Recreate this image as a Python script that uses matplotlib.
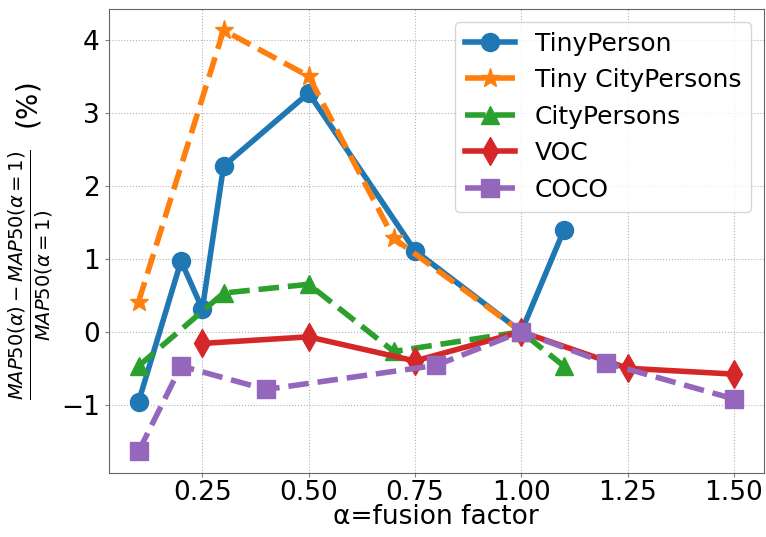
import numpy as np
import matplotlib
matplotlib.use('Agg')
import matplotlib.pyplot as plt

# data
x_tp = [0.1, 0.2, 0.25, 0.3, 0.5, 0.75, 1.0, 1.1]
y_tp = [-0.96, 0.97, 0.31, 2.27, 3.27, 1.11, 0.0, 1.39]

x_tcp = [0.1, 0.3, 0.5, 0.7, 1.0]
y_tcp = [0.41, 4.13, 3.50, 1.28, 0.0]

x_cp = [0.1, 0.3, 0.5, 0.7, 1.0, 1.1]
y_cp = [-0.47, 0.53, 0.65, -0.27, 0.0, -0.47]

x_voc = [0.25, 0.5, 0.75, 1.0, 1.25, 1.5]
y_voc = [-0.16, -0.07, -0.40, 0.0, -0.50, -0.58]

x_coco = [0.1, 0.2, 0.4, 0.8, 1.0, 1.2, 1.5]
y_coco = [-1.64, -0.47, -0.79, -0.46, 0.0, -0.43, -0.92]

fig = plt.figure(figsize=(7.66, 5.37), dpi=100)
ax = fig.add_axes([0.142, 0.12, 0.855, 0.863])

lw = 4
ax.plot(x_tp, y_tp, '-o', color='tab:blue', lw=lw, ms=13, label='TinyPerson')
ax.plot(x_tcp, y_tcp, '--*', color='tab:orange', lw=lw, ms=14, label='Tiny CityPersons')
ax.plot(x_cp, y_cp, '--^', color='tab:green', lw=lw, ms=13, label='CityPersons')
ax.plot(x_voc, y_voc, '-d', color='tab:red', lw=lw, ms=14, label='VOC')
ax.plot(x_coco, y_coco, '--s', color='tab:purple', lw=lw, ms=13, label='COCO')

ax.grid(linestyle=':', color='0.7', linewidth=0.8)
ax.set_xticks([0.25, 0.5, 0.75, 1.0, 1.25, 1.5])
ax.set_yticks([-1, 0, 1, 2, 3, 4])
ax.tick_params(labelsize=19, length=3, color='0.5')
ax.tick_params(axis='x', pad=2)
for s in ax.spines.values():
    s.set_color('0.4')

ax.set_xlabel('α=fusion factor', fontsize=19, labelpad=-1)
ax.set_ylabel(r'$\frac{MAP50(\alpha)-MAP50(\alpha=1)}{MAP50(\alpha=1)}$  (%)', fontsize=20, labelpad=4)
ax.legend(loc='upper right', fontsize=18)

fig.savefig('out.png')
